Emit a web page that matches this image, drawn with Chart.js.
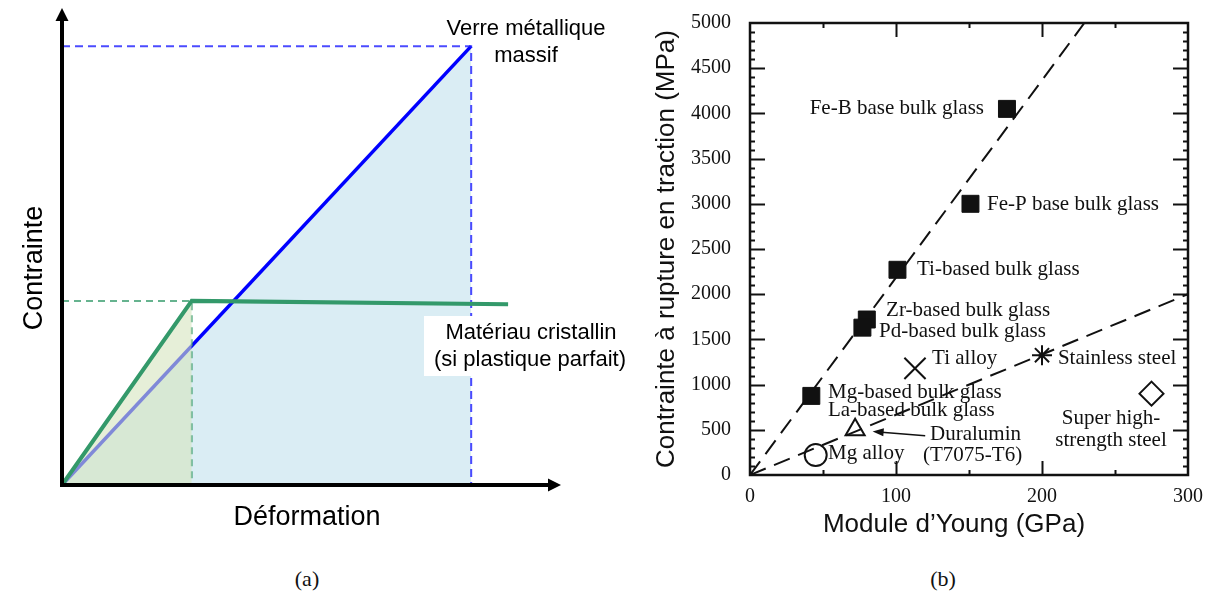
<!DOCTYPE html>
<html>
<head>
<meta charset="utf-8">
<script src="https://cdn.jsdelivr.net/npm/chart.js@4.4.1/dist/chart.umd.min.js"></script>
<style>
  html, body { margin: 0; padding: 0; background: #fff; }
  body { width: 1209px; height: 601px; position: relative; overflow: hidden; }
  .panel { position: absolute; top: 0; height: 560px; }
  #panelA { left: 0; width: 640px; }
  #panelB { left: 640px; width: 569px; }
  .caption { position: absolute; top: 566px; font-family: "Liberation Serif", serif; font-size: 22px; transform: translateX(-50%); color: #111; }
</style>
</head>
<body>
<div class="panel" id="panelA"><canvas id="chartA"></canvas></div>
<div class="panel" id="panelB"><canvas id="chartB"></canvas></div>
<div class="caption" style="left:307px">(a)</div>
<div class="caption" style="left:943px">(b)</div>
<script>
// (a) schematic stress / strain, arbitrary units
const glassStrain = [0, 82];
const glassStress = [0, 92];
const crystalStrain = [0, 26, 89.4];
const crystalStress = [0, 38.6, 37.9];

// (b) tensile fracture strength (MPa) vs Young's modulus (GPa)
const glassNames = ['Fe-B base bulk glass', 'Fe-P base bulk glass', 'Ti-based bulk glass', 'Zr-based bulk glass', 'Pd-based bulk glass', 'Mg-based bulk glass'];
const glassModulus = [176, 151, 101, 80, 77, 42];
const glassStrength = [4050, 3000, 2270, 1720, 1630, 875];
const alloyNames = ['Ti alloy', 'Stainless steel', 'Super high-strength steel', 'Duralumin (T7075-T6)', 'Mg alloy'];
const alloyModulus = [113, 200, 275, 72, 45];
const alloyStrength = [1180, 1325, 900, 500, 220];
const glassFitModulus = [0, 229];
const glassFitStrength = [0, 5000];
const alloyFitModulus = [0, 300];
const alloyFitStrength = [0, 2000];
const strengthTicks = [0, 500, 1000, 1500, 2000, 2500, 3000, 3500, 4000, 4500, 5000];
const modulusTicks = [0, 100, 200, 300];

const pts = (xs, ys) => xs.map((x, i) => ({ x: x, y: ys[i] }));

// ---------- panel (a) ----------
const green = '#33996a';

const axesA = {
  id: 'axesA',
  afterDatasetsDraw(chart) {
    const { ctx, chartArea: a } = chart;
    ctx.save();
    ctx.fillStyle = '#000';
    ctx.strokeStyle = '#000';
    ctx.lineWidth = 4;
    ctx.beginPath();
    ctx.moveTo(a.left, a.bottom + 2);
    ctx.lineTo(a.left, a.top + 10);
    ctx.moveTo(a.left - 2, a.bottom);
    ctx.lineTo(a.right - 10, a.bottom);
    ctx.stroke();
    ctx.beginPath();
    ctx.moveTo(a.left, a.top);
    ctx.lineTo(a.left - 6.5, a.top + 13);
    ctx.lineTo(a.left + 6.5, a.top + 13);
    ctx.fill();
    ctx.beginPath();
    ctx.moveTo(a.right, a.bottom);
    ctx.lineTo(a.right - 13, a.bottom - 6.5);
    ctx.lineTo(a.right - 13, a.bottom + 6.5);
    ctx.fill();

    // white box behind crystal label
    ctx.fillStyle = '#fff';
    ctx.fillRect(424, 316, 210, 60);

    ctx.fillStyle = '#000';
    ctx.textAlign = 'center';
    ctx.textBaseline = 'middle';
    ctx.font = '22px "Liberation Sans", Arial, sans-serif';
    ctx.fillText('Verre métallique', 526, 29);
    ctx.fillText('massif', 526, 56);
    ctx.fillText('Matériau cristallin', 531, 333);
    ctx.fillText('(si plastique parfait)', 530, 360);

    ctx.font = '27px "Liberation Sans", Arial, sans-serif';
    ctx.fillText('Déformation', 307, 518);
    ctx.translate(35, 268);
    ctx.rotate(-Math.PI / 2);
    ctx.fillText('Contrainte', 0, 0);
    ctx.restore();
  }
};

const glassTop = glassStress[glassStress.length - 1];
const glassEnd = glassStrain[glassStrain.length - 1];
const yieldStrain = crystalStrain[1];
const yieldStress = crystalStress[1];

new Chart(document.getElementById('chartA'), {
  type: 'scatter',
  data: {
    datasets: [
      {
        data: pts(crystalStrain, crystalStress),
        showLine: true, borderColor: green, borderWidth: 4, pointRadius: 0, clip: false
      },
      {
        data: pts(crystalStrain.slice(0, 2), crystalStress.slice(0, 2)),
        showLine: true, borderWidth: 0, pointRadius: 0, clip: false,
        fill: 'origin', backgroundColor: 'rgba(213, 228, 190, 0.6)'
      },
      {
        data: [{ x: 0, y: yieldStress }, { x: yieldStrain, y: yieldStress }, { x: yieldStrain, y: 0 }],
        showLine: true, borderColor: 'rgba(51, 153, 106, 0.75)', borderWidth: 2, borderDash: [7, 5],
        pointRadius: 0, clip: false
      },
      {
        data: [{ x: 0, y: glassTop }, { x: glassEnd, y: glassTop }, { x: glassEnd, y: 0 }],
        showLine: true, borderColor: 'rgba(30, 30, 255, 0.8)', borderWidth: 2, borderDash: [8, 5],
        pointRadius: 0, clip: false
      },
      {
        data: pts(glassStrain, glassStress),
        showLine: true, borderColor: '#0000ff', borderWidth: 3.5, pointRadius: 0, clip: false,
        fill: 'origin', backgroundColor: 'rgba(182, 220, 233, 0.5)'
      }
    ]
  },
  options: {
    responsive: true,
    maintainAspectRatio: false,
    animation: false,
    layout: { padding: { left: 62, right: 79, top: 8, bottom: 75 } },
    plugins: { legend: { display: false }, tooltip: { enabled: false } },
    scales: {
      x: { type: 'linear', min: 0, max: 100, display: false },
      y: { type: 'linear', min: 0, max: 100, display: false }
    }
  },
  plugins: [axesA]
});

// ---------- panel (b) ----------
const notesB = [
  { text: 'Fe-B base bulk glass', x: 160.3, y: 4057, align: 'right' },
  { text: 'Fe-P base bulk glass', x: 162.3, y: 2993, align: 'left' },
  { text: 'Ti-based bulk glass', x: 114.4, y: 2270, align: 'left' },
  { text: 'Zr-based bulk glass', x: 93.2, y: 1820, align: 'left' },
  { text: 'Pd-based bulk glass', x: 88.4, y: 1590, align: 'left' },
  { text: 'Ti alloy', x: 124.7, y: 1294, align: 'left' },
  { text: 'Stainless steel', x: 210.9, y: 1294, align: 'left' },
  { text: 'Mg-based bulk glass', x: 53.4, y: 915, align: 'left' },
  { text: 'La-based bulk glass', x: 53.4, y: 712, align: 'left' },
  { text: 'Super high-', x: 247.3, y: 625, align: 'center' },
  { text: 'strength steel', x: 247.3, y: 384, align: 'center' },
  { text: 'Duralumin', x: 123.3, y: 450, align: 'left' },
  { text: '(T7075-T6)', x: 118.5, y: 219, align: 'left' },
  { text: 'Mg alloy', x: 53.4, y: 241, align: 'left' }
];

const frameB = {
  id: 'frameB',
  afterDraw(chart) {
    const { ctx, chartArea: a, scales: { x, y } } = chart;
    ctx.save();
    ctx.strokeStyle = '#111';
    ctx.lineWidth = 2.5;
    ctx.strokeRect(a.left, a.top, a.right - a.left, a.bottom - a.top);
    ctx.lineWidth = 2;
    ctx.beginPath();
    for (let v = 100; v < 5000; v += 100) {
      const py = Math.round(y.getPixelForValue(v)) + 0.5;
      const len = v % 500 === 0 ? 15 : 5;
      ctx.moveTo(a.left, py); ctx.lineTo(a.left + len, py);
      ctx.moveTo(a.right, py); ctx.lineTo(a.right - len, py);
    }
    for (let v = 50; v < 300; v += 50) {
      const px = Math.round(x.getPixelForValue(v)) + 0.5;
      const len = v % 100 === 0 ? 14 : 5;
      ctx.moveTo(px, a.bottom); ctx.lineTo(px, a.bottom - len);
      ctx.moveTo(px, a.top); ctx.lineTo(px, a.top + len);
    }
    ctx.stroke();

    // arrow Duralumin -> triangle
    const tx = x.getPixelForValue(120), ty = y.getPixelForValue(435);
    const hx = x.getPixelForValue(84), hy = y.getPixelForValue(482);
    const ang = Math.atan2(hy - ty, hx - tx);
    ctx.lineWidth = 1.5;
    ctx.beginPath();
    ctx.moveTo(tx, ty);
    ctx.lineTo(hx - Math.cos(ang) * 6, hy - Math.sin(ang) * 6);
    ctx.stroke();
    ctx.fillStyle = '#111';
    ctx.beginPath();
    ctx.moveTo(hx, hy);
    ctx.lineTo(hx - Math.cos(ang) * 11 - Math.sin(ang) * 4, hy - Math.sin(ang) * 11 + Math.cos(ang) * 4);
    ctx.lineTo(hx - Math.cos(ang) * 11 + Math.sin(ang) * 4, hy - Math.sin(ang) * 11 - Math.cos(ang) * 4);
    ctx.fill();

    ctx.font = '21px "Liberation Serif", "Times New Roman", serif';
    ctx.textBaseline = 'middle';
    notesB.forEach(n => {
      ctx.textAlign = n.align;
      ctx.fillText(n.text, x.getPixelForValue(n.x), y.getPixelForValue(n.y));
    });

    ctx.font = '26px "Liberation Sans", Arial, sans-serif';
    ctx.textAlign = 'center';
    ctx.fillText('Module d\u2019Young (GPa)', 314, 525);
    ctx.restore();
  }
};

const tickFont = { family: '"Liberation Serif", "Times New Roman", serif', size: 20 };

new Chart(document.getElementById('chartB'), {
  type: 'scatter',
  data: {
    datasets: [
      {
        label: 'Bulk glasses',
        data: pts(glassModulus, glassStrength),
        pointStyle: 'rect', pointRadius: 12, backgroundColor: '#111', borderColor: '#111', borderWidth: 1
      },
      {
        label: 'Crystalline alloys',
        data: pts(alloyModulus, alloyStrength),
        pointStyle: ['crossRot', 'star', 'rectRot', 'triangle', 'circle'],
        pointRadius: [15, 10, 12, 11, 11],
        backgroundColor: 'rgba(255,255,255,0)', borderColor: '#111', borderWidth: 2
      },
      {
        data: pts(glassFitModulus, glassFitStrength),
        showLine: true, borderColor: '#111', borderWidth: 2, borderDash: [17, 9], pointRadius: 0
      },
      {
        data: pts(alloyFitModulus, alloyFitStrength),
        showLine: true, borderColor: '#111', borderWidth: 2, borderDash: [17, 9], pointRadius: 0
      }
    ]
  },
  options: {
    responsive: true,
    maintainAspectRatio: false,
    animation: false,
    layout: { padding: { left: 0, right: 21, top: 19, bottom: 0 } },
    plugins: { legend: { display: false }, tooltip: { enabled: false } },
    scales: {
      x: {
        type: 'linear', min: 0, max: 300,
        grid: { display: false }, border: { display: false },
        afterBuildTicks: s => { s.ticks = modulusTicks.map(v => ({ value: v })); },
        afterFit: s => { s.height = 85; },
        ticks: { font: tickFont, color: '#111', padding: 2, maxRotation: 0, callback: v => String(v) }
      },
      y: {
        type: 'linear', min: 0, max: 5000,
        grid: { display: false }, border: { display: false },
        afterBuildTicks: s => { s.ticks = strengthTicks.map(v => ({ value: v })); },
        afterFit: s => { s.width = 110; },
        ticks: { font: tickFont, color: '#111', padding: 11, callback: v => String(v) },
        title: {
          display: true,
          text: 'Contrainte à rupture en traction (MPa)',
          font: { family: '"Liberation Sans", Arial, sans-serif', size: 26 },
          color: '#111',
          padding: { top: 11, bottom: 0 }
        }
      }
    }
  },
  plugins: [frameB]
});
</script>
</body>
</html>
